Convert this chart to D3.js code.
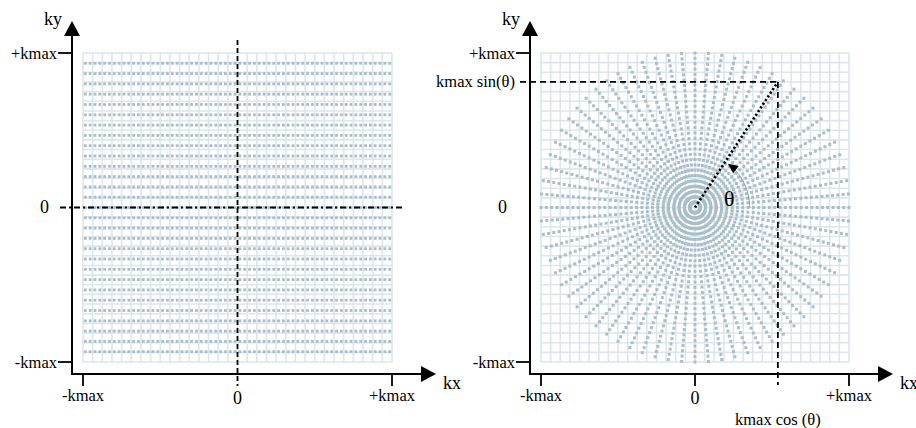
<!DOCTYPE html>
<html><head><meta charset="utf-8">
<script src="https://cdn.jsdelivr.net/npm/d3@7"></script>
<style>body{margin:0;background:#fff}svg{display:block}text{font-family:"Liberation Serif","Times New Roman",serif;fill:#000}</style>
</head><body><svg id="c" width="916" height="428"></svg>
<script>
// ---- data ----
const gridCells = d3.range(0, 33).map(i => -1 + i * 2 / 32);        // 32x32 reference grid
const rowPositions = d3.range(-14, 15).map(i => i / 15);            // cartesian sampling rows (ky)
const rowSamples = d3.range(0, 64).map(i => -0.985 + i * 1.97 / 63); // samples along each row (kx)
const spokeAngles = d3.range(0, 72).map(i => i * 360 / 72);          // radial spokes (deg)
const spokeRadii = d3.range(1, 30).map(i => i / 29);                // samples along a spoke
const thetaDeg = 56.5;
const thetaR = 0.975;
const xTicks = [{v:-1,t:"-kmax"},{v:0,t:"0"},{v:1,t:"+kmax"}];
const yTicks = [{v:1,t:"+kmax"},{v:0,t:"0"},{v:-1,t:"-kmax"}];

const svg = d3.select("#c");
const gridColor = "#dde6ec", dotColor = "#a9bec8";
const FS = 16.5;

function makePanel(x0, x1, yAxisX) {
  const x = d3.scaleLinear([-1, 1], [x0, x1]);
  const y = d3.scaleLinear([-1, 1], [362, 53]);
  const g = svg.append("g");
  g.selectAll("line.v").data(gridCells).join("line").attr("class","v")
    .attr("x1", d => x(d)).attr("x2", d => x(d)).attr("y1", y(-1)).attr("y2", y(1))
    .attr("stroke", gridColor).attr("stroke-width", 1.6);
  g.selectAll("line.h").data(gridCells).join("line").attr("class","h")
    .attr("y1", d => y(d)).attr("y2", d => y(d)).attr("x1", x(-1)).attr("x2", x(1))
    .attr("stroke", gridColor).attr("stroke-width", 1.6);
  return {x, y, g, yAxisX};
}

function axes(p, arrowX) {
  const {g, yAxisX} = p;
  const axY = 374;
  g.append("line").attr("x1", yAxisX).attr("x2", yAxisX).attr("y1", axY + 1).attr("y2", 33)
    .attr("stroke", "#000").attr("stroke-width", 2);
  g.append("path").attr("d", `M${yAxisX},21 L${yAxisX-8},36 L${yAxisX+8},36 Z`).attr("fill", "#000");
  g.append("line").attr("x1", yAxisX - 1).attr("x2", arrowX - 12).attr("y1", axY).attr("y2", axY)
    .attr("stroke", "#000").attr("stroke-width", 2);
  g.append("path").attr("d", `M${arrowX},${axY} L${arrowX-15},${axY-8} L${arrowX-15},${axY+8} Z`).attr("fill", "#000");
  g.append("text").attr("x", arrowX + 7).attr("y", axY + 15).attr("font-size", 18).text("kx");
  g.append("text").attr("x", yAxisX - 28).attr("y", 25).attr("font-size", 18).text("ky");
}

function ticksAndLabels(p, withZeroTick) {
  const {x, y, g, yAxisX} = p;
  [1, -1].forEach(v => g.append("line").attr("x1", yAxisX - 14).attr("x2", yAxisX).attr("y1", y(v)).attr("y2", y(v)).attr("stroke", "#000").attr("stroke-width", 1.8));
  (withZeroTick ? [-1, 0, 1] : [-1, 1]).forEach(v => g.append("line").attr("x1", x(v)).attr("x2", x(v)).attr("y1", 374).attr("y2", 386).attr("stroke", "#000").attr("stroke-width", 1.8));
  g.selectAll("text.yt").data(yTicks).join("text").attr("class","yt")
    .attr("x", d => d.v === 0 ? yAxisX - 23 : yAxisX - 15).attr("y", d => y(d.v) + 5.5).attr("text-anchor", "end")
    .attr("font-size", d => d.v === 0 ? 18 : FS).text(d => d.t);
  g.selectAll("text.xt").data(xTicks).join("text").attr("class","xt")
    .attr("x", d => x(d.v)).attr("y", d => d.v === 0 ? 404 : 401).attr("text-anchor", "middle")
    .attr("font-size", d => d.v === 0 ? 18 : FS).text(d => d.t);
}

// ---- left panel ----
const L = makePanel(83, 392, 72);
{
  const {x, y, g} = L;
  const rows = g.selectAll("g.row").data(rowPositions).join("g").attr("class","row");
  rows.selectAll("rect").data(r => rowSamples.map(s => [s, r])).join("rect")
    .attr("x", d => x(d[0]) - 1.4).attr("y", d => y(d[1]) - 1.4).attr("width", 2.8).attr("height", 2.8)
    .attr("fill", dotColor);
  g.append("line").attr("x1", x(0)).attr("x2", x(0)).attr("y1", 40).attr("y2", 386)
    .attr("stroke", "#000").attr("stroke-width", 1.8).attr("stroke-dasharray", "5,3");
  g.append("line").attr("x1", 60).attr("x2", 404).attr("y1", y(0)).attr("y2", y(0))
    .attr("stroke", "#000").attr("stroke-width", 1.8).attr("stroke-dasharray", "6,3,2,3");
  ticksAndLabels(L, false);
}
axes(L, 436);

// ---- right panel ----
const R = makePanel(541, 849, 530);
{
  const {x, y, g} = R;
  const pts = [];
  spokeAngles.forEach(a => spokeRadii.forEach(r => {
    const t = a * Math.PI / 180;
    pts.push([r * Math.cos(t), r * Math.sin(t)]);
  }));
  g.selectAll("rect.s").data(pts).join("rect").attr("class","s")
    .attr("x", d => x(d[0]) - 1.5).attr("y", d => y(d[1]) - 1.5).attr("width", 3).attr("height", 3)
    .attr("fill", dotColor);
  const t = thetaDeg * Math.PI / 180;
  const px = thetaR * Math.cos(t), py = thetaR * Math.sin(t);
  g.append("line").attr("x1", 520).attr("x2", x(px)).attr("y1", y(py)).attr("y2", y(py))
    .attr("stroke", "#000").attr("stroke-width", 1.8).attr("stroke-dasharray", "6,4");
  g.append("line").attr("x1", x(px)).attr("x2", x(px)).attr("y1", y(py)).attr("y2", 385)
    .attr("stroke", "#000").attr("stroke-width", 1.8).attr("stroke-dasharray", "6,4");
  g.append("line").attr("x1", x(0)).attr("x2", x(px)).attr("y1", y(0)).attr("y2", y(py))
    .attr("stroke", "#000").attr("stroke-width", 2.6).attr("stroke-dasharray", "2.2,2.2");
  const ar = 0.355, a1 = 50;
  const arc = d3.range(0, a1 + 1, 1).map(a => [x(ar * Math.cos(a*Math.PI/180)), y(ar * Math.sin(a*Math.PI/180))]);
  g.append("path").attr("d", d3.line()(arc)).attr("fill", "none").attr("stroke", "#8c8c8c").attr("stroke-width", 1);
  const ta = 53 * Math.PI / 180, tipX = x(ar*Math.cos(ta)), tipY = y(ar*Math.sin(ta));
  const dx = -Math.sin(ta), dy = -Math.cos(ta);
  const bx = tipX - dx * 10, by = tipY - dy * 10, nx = -dy, ny = dx;
  g.append("path").attr("d", `M${tipX},${tipY} L${bx+nx*4.5},${by+ny*4.5} L${bx-nx*4.5},${by-ny*4.5} Z`).attr("fill", "#000");
  g.append("text").attr("x", 724).attr("y", 206).attr("font-size", 22).text("θ");
  ticksAndLabels(R, true);
  g.append("text").attr("x", 515).attr("y", y(py) + 5.5).attr("text-anchor", "end").attr("font-size", FS).text("kmax sin(θ)");
  g.append("text").attr("x", x(px)).attr("y", 425).attr("text-anchor", "middle").attr("font-size", FS).text("kmax cos (θ)");
}
axes(R, 893);
</script></body></html>
